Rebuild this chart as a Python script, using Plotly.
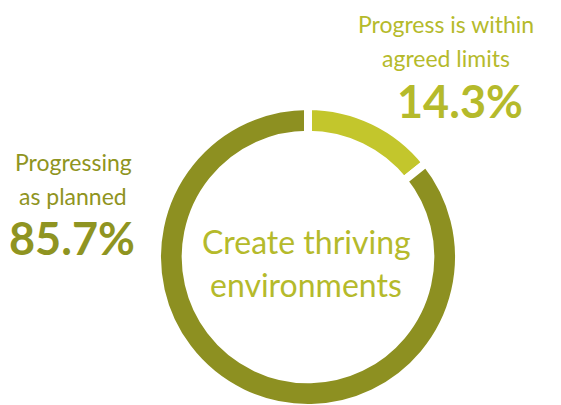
import plotly.graph_objects as go

labels = ["Progress is within agreed limits", "Progressing as planned"]
values = [14.3, 85.7]
colors = ["#c3c62c", "#8d9021"]
center_lines = ["Create thriving", "environments"]
left_lines = ["Progressing", "as planned"]
right_lines = ["Progress is within", "agreed limits"]

W, H = 561, 405
OFF = 8  # page body margin
FONT = "Lato"


def px(x):
    return (x - OFF) / W


def py(y):
    return 1 - (y - OFF) / H


cx, cy, R = 308, 257, 151

fig = go.Figure(go.Pie(
    labels=labels,
    values=values,
    hole=0.81,
    sort=False,
    direction="clockwise",
    rotation=0,
    marker=dict(colors=colors, line=dict(color="white", width=8)),
    textinfo="none",
    hoverinfo="label+percent",
    showlegend=False,
    domain=dict(x=[px(cx - R), px(cx + R)], y=[py(cy + R), py(cy - R)]),
))

dark = "#8f9421"
light = "#b5ba2b"


def note(x, y, text, size, color):
    return dict(x=px(x), y=py(y), xref="paper", yref="paper", text=text,
                showarrow=False, xanchor="center", yanchor="middle",
                font=dict(family=FONT, size=size, color=color), align="center")


ann = [
    note(306, 241, center_lines[0], 32, light),
    note(306, 284, center_lines[1], 32, light),
    note(73, 162, left_lines[0], 23, dark),
    note(73, 196, left_lines[1], 23, dark),
    note(72, 238, "<b>%.1f%%</b>" % values[1], 45, dark),
    note(446, 24, right_lines[0], 23, light),
    note(446, 58, right_lines[1], 23, light),
    note(460, 101, "<b>%.1f%%</b>" % values[0], 45, light),
]

fig.update_layout(
    width=W, height=H,
    margin=dict(l=0, r=0, t=0, b=0),
    paper_bgcolor="white", plot_bgcolor="white",
    annotations=ann,
)

fig.write_html("out.html")
